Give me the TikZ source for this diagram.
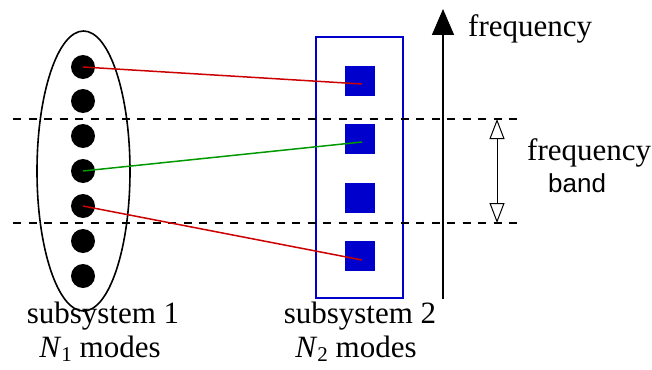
\documentclass[tikz,border=0pt]{standalone}
\usepackage{fontspec}
\setmainfont{Liberation Serif}
\setsansfont{Liberation Sans}
\usetikzlibrary{arrows.meta, positioning, shapes.geometric}
\definecolor{modeblue}{HTML}{0000CC}
\definecolor{linkred}{HTML}{CC0000}
\definecolor{linkgreen}{HTML}{009900}

\begin{document}
\begin{tikzpicture}[x=1pt,y=-1pt,
  mode/.style={circle,fill=black,inner sep=0pt,minimum size=24pt},
  blockmode/.style={rectangle,fill=modeblue,inner sep=0pt,minimum size=30pt},
  link/.style={line width=1.5pt},
  bandline/.style={line width=1.5pt,dash pattern=on 8pt off 7.5pt},
  lbl/.style={font=\fontsize{31}{33}\selectfont,inner sep=0pt}]
  \useasboundingbox (0,0) rectangle (652,369);

  % Subsystem 1
  \draw[line width=1.6pt] (83.5,171) ellipse (46.5 and 140);
  \node[mode] (d1) at (83,67) {};
  \node[mode] (d2) at (83,101) {};
  \node[mode] (d3) at (83,136) {};
  \node[mode] (d4) at (83,171) {};
  \node[mode] (d5) at (83,206) {};
  \node[mode] (d6) at (83,241) {};
  \node[mode] (d7) at (83,276) {};

  % Subsystem 2
  \draw[modeblue,line width=1.5pt] (316,37) rectangle (403,298);
  \node[blockmode] (s1) at (360,81) {};
  \node[blockmode] (s2) at (360,139) {};
  \node[blockmode] (s3) at (360,198) {};
  \node[blockmode] (s4) at (360,256) {};

  % Frequency band limits
  \coordinate (bl1) at (13,119);
  \coordinate (br1) at (518,119);
  \coordinate (bl2) at (13,223);
  \coordinate (br2) at (518,223);
  \draw[bandline] (bl1) -- (br1);
  \draw[bandline] (bl2) -- (br2);

  % Couplings
  \draw[link,linkred] (d1.center) -- ([xshift=2pt,yshift=-3pt]s1.center);
  \draw[link,linkgreen] (d4.center) -- ([xshift=2pt,yshift=-3pt]s2.center);
  \draw[link,linkred] (d5.center) -- ([xshift=2pt,yshift=-4pt]s4.center);

  % Frequency axis
  \coordinate (f0) at (443,299);
  \coordinate (f1) at (443,9);
  \draw[line width=1.5pt,-{Triangle[length=26pt,width=22pt]}] (f0) -- (f1);
  \node[lbl,anchor=base west] (freq) at (468,37) {frequency};

  % Band width
  \coordinate (b1) at (497,119);
  \coordinate (b2) at (497,223);
  \draw[line width=1pt,{Triangle[open,length=20pt,width=15pt]}-{Triangle[open,length=20pt,width=15pt]}] (b1) -- (b2);
  \node[lbl,anchor=base west] (bandf) at (527,160) {frequency};
  \node[font=\sffamily\fontsize{26}{28}\selectfont,inner sep=0pt,anchor=base west] (band) at (548,192) {band};

  % Labels
  \node[lbl,anchor=base] (sub1) at (103,323) {subsystem 1};
  \node[lbl,anchor=base] (n1) at (100,357) {\textit{N}\raisebox{-0.3ex}{\fontsize{21}{21}\selectfont 1} modes};
  \node[lbl,anchor=base] (sub2) at (360,323) {subsystem 2};
  \node[lbl,anchor=base] (n2) at (356,357) {\textit{N}\raisebox{-0.3ex}{\fontsize{21}{21}\selectfont 2} modes};
\end{tikzpicture}
\end{document}
